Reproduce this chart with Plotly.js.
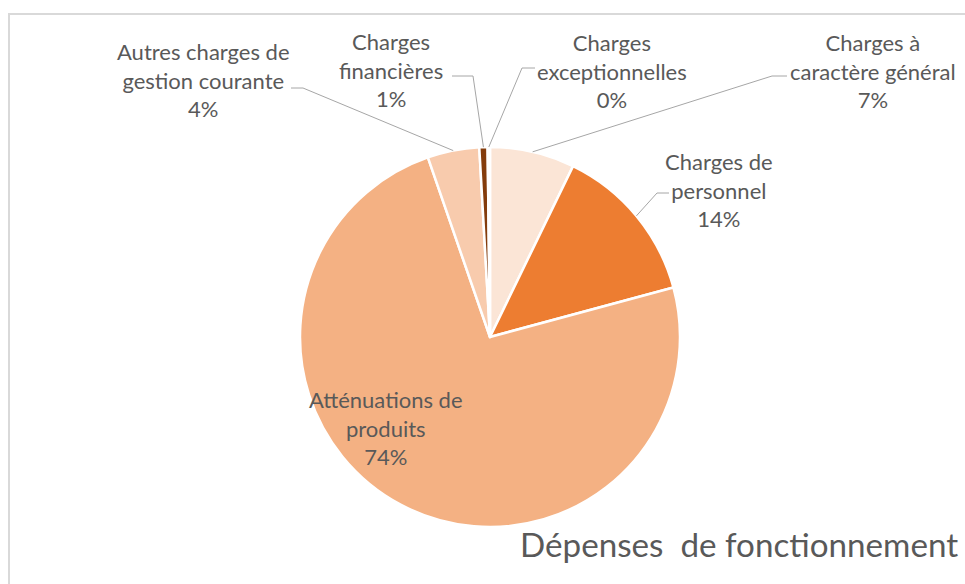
<!DOCTYPE html>
<html>
<head>
<meta charset="utf-8">
<script src="https://cdn.plot.ly/plotly-3.0.1.min.js"></script>
<style>html,body{margin:0;padding:0;background:#fff;}#chart{width:965px;height:584px;}</style>
</head>
<body>
<div id="chart"></div>
<script>
// ---- data ----
const categories = [
  "Charges à caractère général",
  "Charges de personnel",
  "Atténuations de produits",
  "Autres charges de gestion courante",
  "Charges financières",
  "Charges exceptionnelles"
];
const displayLabels = [
  "Charges à<br>caractère général",
  "Charges de<br>personnel",
  "Atténuations de<br>produits",
  "Autres charges de<br>gestion courante",
  "Charges<br>financières",
  "Charges<br>exceptionnelles"
];
const values = [7.2, 13.6, 73.9, 4.4, 0.7, 0.2];
const sliceColors = ["#FBE5D6", "#ED7D31", "#F4B183", "#F8CBAD", "#843C0C", "#C55A11"];
const chartTitle = "Dépenses&nbsp; de fonctionnement";

// ---- layout constants (pixels) ----
const W = 965, H = 584;
const CX = 490, CY = 337, R = 190;
// label block centers and leader elbows (pixel positions); null elbow = label inside
const labelPos = [[873, 71], [719, 190], [386, 428], [203, 80], [391, 70], [612, 71]];
const elbows = [
  [[772, 76], [787, 76]],
  [[657, 193], [669, 193]],
  null,
  [[303, 88], [291, 88]],
  [[473, 76], [452, 76]],
  [[522, 68], [535, 68]]
];

const px = x => x / W;
const py = y => 1 - y / H;

const total = values.reduce((a, b) => a + b, 0);
const shapes = [];
const annotations = [];

// frame (top and left border)
shapes.push({
  type: "path", xref: "paper", yref: "paper",
  path: `M ${px(9)} ${py(H)} L ${px(9)} ${py(14)} L ${px(W)} ${py(14)}`,
  line: { color: "#D9D9D9", width: 2 }
});

let cum = 0;
values.forEach((v, i) => {
  const mid = (cum + v / 2) / total * 2 * Math.PI;
  cum += v;
  const ax = CX + R * Math.sin(mid);
  const ay = CY - R * Math.cos(mid);
  const pct = Math.round(v / total * 100) + "%";
  annotations.push({
    xref: "paper", yref: "paper",
    x: px(labelPos[i][0]), y: py(labelPos[i][1]),
    xanchor: "center", yanchor: "middle", align: "center",
    showarrow: false,
    text: displayLabels[i] + "<br>" + pct,
    font: { family: "Lato, 'Open Sans', sans-serif", size: 22, color: "#595959" }
  });
  if (elbows[i]) {
    const e = elbows[i];
    shapes.push({
      type: "path", xref: "paper", yref: "paper",
      path: `M ${px(ax)} ${py(ay)} L ${px(e[0][0])} ${py(e[0][1])} L ${px(e[1][0])} ${py(e[1][1])}`,
      line: { color: "#A6A6A6", width: 1 }
    });
  }
});

const trace = {
  type: "pie",
  labels: categories,
  values: values,
  sort: false,
  direction: "clockwise",
  rotation: 0,
  textinfo: "none",
  hoverinfo: "label+percent",
  marker: { colors: sliceColors, line: { color: "#FFFFFF", width: 2.5 } },
  domain: { x: [px(CX - R), px(CX + R)], y: [py(CY + R), py(CY - R)] },
  showlegend: false
};

const layout = {
  width: W, height: H,
  margin: { l: 0, r: 0, t: 0, b: 0 },
  paper_bgcolor: "#FFFFFF",
  showlegend: false,
  title: {
    text: chartTitle,
    x: px(520), xanchor: "left", xref: "paper",
    y: py(545), yanchor: "middle", yref: "paper",
    font: { family: "Lato, 'Open Sans', sans-serif", size: 33.2, color: "#595959" }
  },
  shapes: shapes,
  annotations: annotations
};

Plotly.newPlot("chart", [trace], layout, { staticPlot: true, displayModeBar: false });
</script>
</body>
</html>
